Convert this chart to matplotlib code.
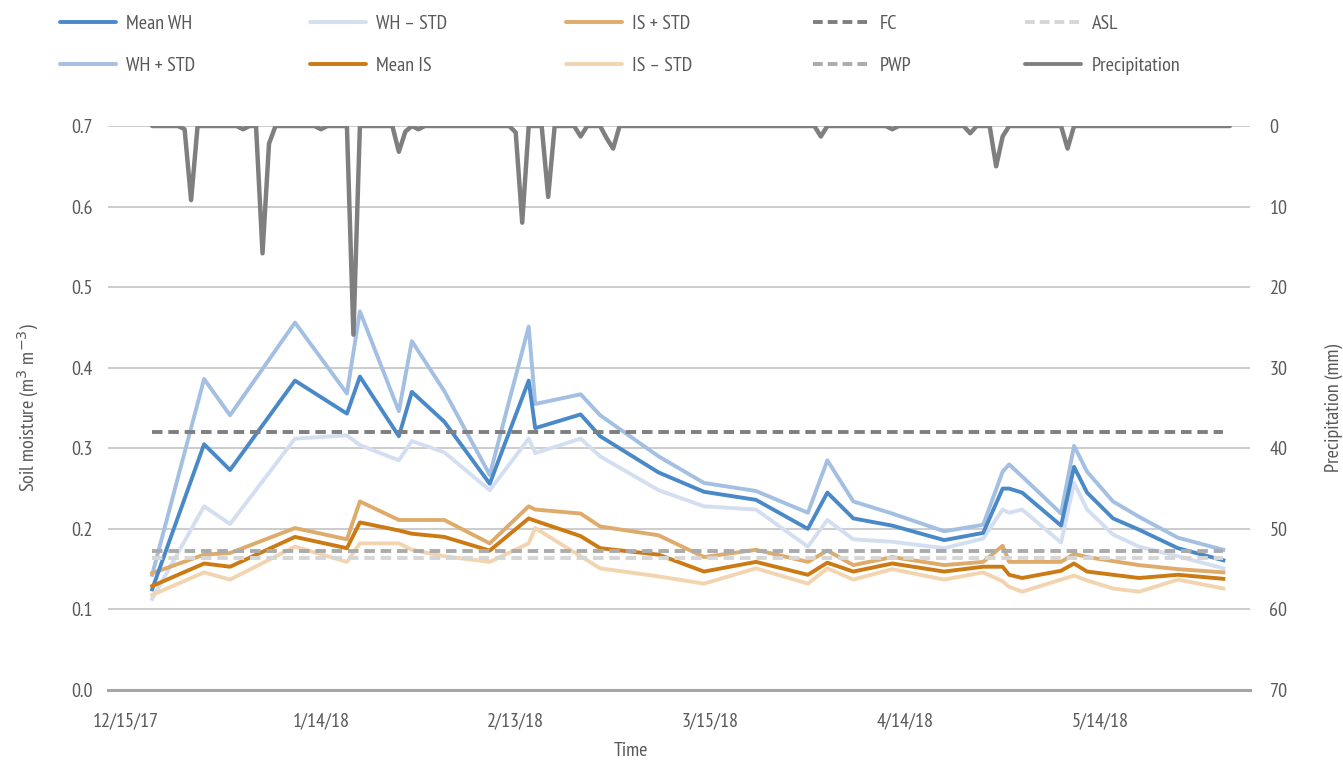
import numpy as np
import pandas as pd
import matplotlib
matplotlib.use("Agg")
import matplotlib.pyplot as plt
from matplotlib.lines import Line2D

plt.rcParams['font.family'] = ['PT Sans Narrow', 'DejaVu Sans']

# fechas de muestreo de humedad del suelo
fechas = ["2017-12-19", "2017-12-27", "2017-12-31", "2018-01-10", "2018-01-18",
          "2018-01-20", "2018-01-26", "2018-01-28", "2018-02-02", "2018-02-09",
          "2018-02-15", "2018-02-16", "2018-02-23", "2018-02-26", "2018-03-07",
          "2018-03-14", "2018-03-22", "2018-03-30", "2018-04-02", "2018-04-06",
          "2018-04-12", "2018-04-20", "2018-04-26", "2018-04-29", "2018-04-30",
          "2018-05-02", "2018-05-08", "2018-05-10", "2018-05-12", "2018-05-16",
          "2018-05-20", "2018-05-26", "2018-06-02"]

mean_wh = [0.125, 0.305, 0.273, 0.384, 0.343, 0.389, 0.315, 0.370, 0.333, 0.256,
           0.384, 0.325, 0.342, 0.315, 0.270, 0.246, 0.236, 0.200, 0.245, 0.213,
           0.204, 0.186, 0.195, 0.250, 0.250, 0.245, 0.204, 0.277, 0.245, 0.213,
           0.199, 0.176, 0.161]
wh_mas = [0.143, 0.386, 0.341, 0.456, 0.368, 0.470, 0.346, 0.433, 0.371, 0.267,
          0.451, 0.355, 0.367, 0.341, 0.290, 0.257, 0.247, 0.220, 0.285, 0.234,
          0.219, 0.197, 0.205, 0.271, 0.280, 0.265, 0.219, 0.303, 0.271, 0.234,
          0.215, 0.189, 0.174]
wh_menos = [0.113, 0.228, 0.206, 0.312, 0.316, 0.304, 0.285, 0.309, 0.295, 0.248,
            0.312, 0.294, 0.312, 0.290, 0.248, 0.228, 0.224, 0.178, 0.211, 0.187,
            0.184, 0.176, 0.188, 0.224, 0.220, 0.224, 0.183, 0.257, 0.224, 0.193,
            0.178, 0.166, 0.151]
mean_is = [0.129, 0.157, 0.153, 0.190, 0.176, 0.208, 0.198, 0.194, 0.190, 0.173,
           0.213, 0.210, 0.191, 0.176, 0.168, 0.147, 0.159, 0.143, 0.158, 0.147,
           0.157, 0.147, 0.153, 0.153, 0.143, 0.139, 0.148, 0.157, 0.147, 0.143,
           0.139, 0.143, 0.138]
is_mas = [0.145, 0.168, 0.170, 0.201, 0.187, 0.234, 0.211, 0.211, 0.211, 0.182,
          0.228, 0.224, 0.219, 0.203, 0.192, 0.165, 0.174, 0.159, 0.173, 0.155,
          0.165, 0.155, 0.159, 0.179, 0.159, 0.159, 0.159, 0.169, 0.165, 0.160,
          0.155, 0.150, 0.146]
is_menos = [0.118, 0.146, 0.137, 0.178, 0.159, 0.182, 0.182, 0.174, 0.166, 0.159,
            0.182, 0.201, 0.166, 0.151, 0.141, 0.132, 0.151, 0.132, 0.151, 0.137,
            0.150, 0.137, 0.146, 0.135, 0.128, 0.122, 0.137, 0.142, 0.136, 0.126,
            0.122, 0.137, 0.126]

# umbrales
fc = 0.320
pwp = 0.172
asl = 0.164

# precipitacion diaria (dias sin lluvia = 0)
precip_inicio = "2017-12-19"
precip_fin = "2018-06-03"
lluvia_fechas = ["2017-12-24", "2017-12-25", "2018-01-02", "2018-01-05", "2018-01-06",
                 "2018-01-14", "2018-01-19", "2018-01-26", "2018-01-27", "2018-01-29",
                 "2018-02-13", "2018-02-14", "2018-02-18", "2018-02-23", "2018-02-27",
                 "2018-02-28", "2018-04-01", "2018-04-12", "2018-04-24", "2018-04-28",
                 "2018-04-29", "2018-05-09"]
lluvia_mm = [0.4, 9.2, 0.4, 15.8, 2.2, 0.4, 25.9, 3.2, 0.7, 0.4,
             0.8, 12.0, 8.8, 1.3, 1.5, 2.8, 1.3, 0.4, 0.9, 5.0,
             1.3, 2.8]

ticks_fechas = ["2017-12-15", "2018-01-14", "2018-02-13", "2018-03-15", "2018-04-14", "2018-05-14"]
ticks_texto = ["12/15/17", "1/14/18", "2/13/18", "3/15/18", "4/14/18", "5/14/18"]

gris_texto = '#595959'
fs = 14.5

t = pd.to_datetime(fechas)
dias = pd.date_range(precip_inicio, precip_fin, freq='D')
precip = pd.Series(0.0, index=dias)
precip.loc[pd.to_datetime(lluvia_fechas)] = lluvia_mm

fig = plt.figure(figsize=(13.43, 7.63), dpi=100)
ax = fig.add_axes([108/1343, 1 - 690/763, (1250 - 108)/1343, (690 - 126)/763])

lw = 2.8
guion = (2.7, 1.5)
ax.plot(t, wh_menos, color='#d3dff1', lw=lw, zorder=3)
ax.plot(t, wh_mas, color='#a3bfe2', lw=lw, zorder=3)
ax.plot(t, is_menos, color='#f2d5b0', lw=lw, zorder=3)
ax.plot(t, is_mas, color='#dfab6b', lw=lw, zorder=3)
ax.plot(t, mean_wh, color='#4a89c8', lw=lw, zorder=4)
ax.plot(t, mean_is, color='#cb7a14', lw=lw, zorder=4)

ax.plot([t[0], t[-1]], [fc, fc], color='#7f7f7f', lw=lw, dashes=guion, zorder=5)
ax.plot([t[0], t[-1]], [pwp, pwp], color='#ababab', lw=lw, dashes=guion, zorder=5)
ax.plot([t[0], t[-1]], [asl, asl], color='#d6d6d6', lw=lw, dashes=guion, zorder=5)

ax.set_ylim(0, 0.7)
ax.set_yticks(np.arange(0, 0.71, 0.1))
ax.set_yticklabels(['%.1f' % v for v in np.arange(0, 0.71, 0.1)])
ax.set_xlim(pd.Timestamp("2017-12-15") - pd.Timedelta(days=2.8),
            pd.Timestamp("2017-12-15") + pd.Timedelta(days=173.1))
ax.set_xticks(pd.to_datetime(ticks_fechas))
ax.set_xticklabels(ticks_texto)
ax.grid(axis='y', color='#c8c8c8', lw=1.3, zorder=0)
ax.set_axisbelow(True)
for s in ['top', 'left', 'right']:
    ax.spines[s].set_visible(False)
ax.spines['bottom'].set_color('#a6a6a6')
ax.spines['bottom'].set_linewidth(2.2)
ax.tick_params(axis='both', length=0, labelsize=fs, colors=gris_texto)
ax.tick_params(axis='y', pad=11)
ax.tick_params(axis='x', pad=16)
ax.set_ylabel('Soil moisture (m$^3$ m$^{-3}$)', fontsize=fs, color=gris_texto, labelpad=22)
ax.set_xlabel('Time', fontsize=fs, color=gris_texto)
ax.xaxis.set_label_coords((631 - 108) / 1142, -52 / 564)

ax2 = ax.twinx()
ax2.plot(precip.index, precip.values, color='#7f7f7f', lw=3.2, solid_capstyle='round',
         solid_joinstyle='round')
ax2.set_ylim(70, 0)
ax2.set_yticks(np.arange(0, 71, 10))
for s in ax2.spines.values():
    s.set_visible(False)
ax2.tick_params(axis='y', length=0, labelsize=fs, colors=gris_texto, pad=14)
ax2.set_ylabel('Precipitation (mm)', fontsize=fs, color=gris_texto, labelpad=27)

# leyenda: cinco columnas colocadas a mano
columnas = [
    (60, [('Mean WH', '#4a89c8', '-'), ('WH + STD', '#a3bfe2', '-')]),
    (310, [('WH \u2013 STD', '#d3dff1', '-'), ('Mean IS', '#cb7a14', '-')]),
    (566, [('IS + STD', '#dfab6b', '-'), ('IS \u2013 STD', '#f2d5b0', '-')]),
    (813, [('FC', '#7f7f7f', '--'), ('PWP', '#ababab', '--')]),
    (1025, [('ASL', '#d6d6d6', '--'), ('Precipitation', '#7f7f7f', '-')]),
]
for x0, items in columnas:
    handles = []
    for nombre, color, estilo in items:
        if estilo == '--':
            h = Line2D([], [], color=color, lw=lw, dashes=(2.5, 1.3))
        else:
            h = Line2D([], [], color=color, lw=lw, solid_capstyle='round')
        handles.append(h)
    leg = fig.legend(handles, [i[0] for i in items], loc='upper left',
                     bbox_to_anchor=(x0/1343, 1 - 15/763), frameon=False,
                     fontsize=fs, handlelength=2.8, handletextpad=0.5,
                     labelspacing=1.2, borderpad=0, borderaxespad=0)
    for txt in leg.get_texts():
        txt.set_color(gris_texto)

fig.savefig('out.png', dpi=100)
